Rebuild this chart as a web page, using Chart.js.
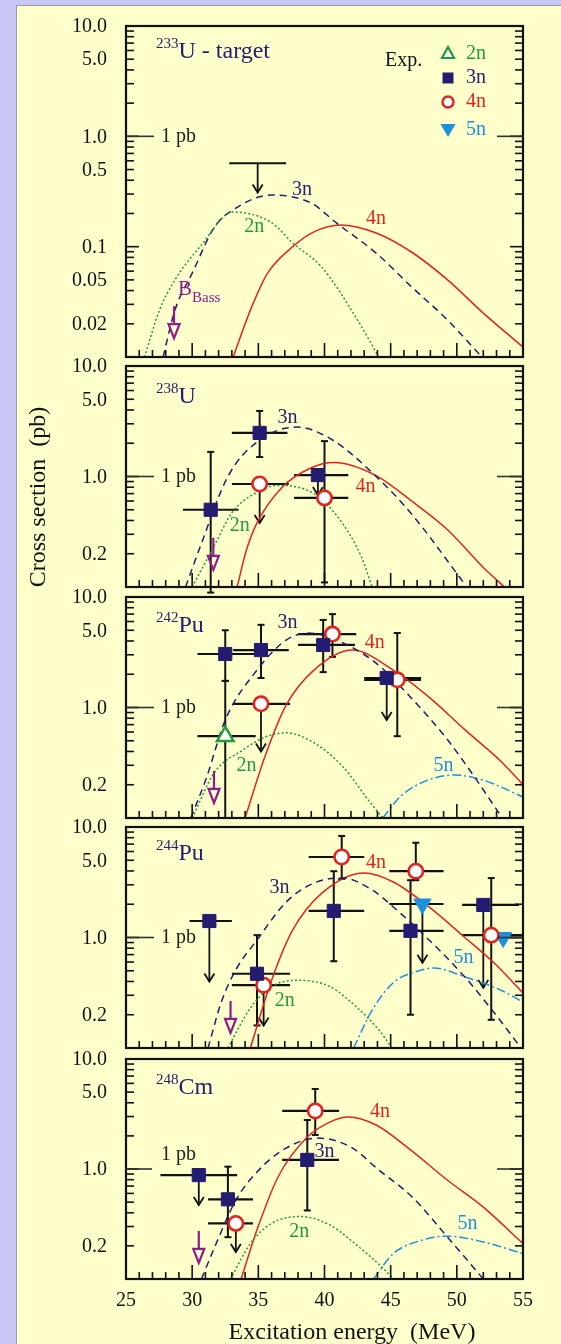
<!DOCTYPE html>
<html><head><meta charset="utf-8">
<script src="https://cdn.jsdelivr.net/npm/chart.js@4/dist/chart.umd.min.js"></script>
<style>
html,body{margin:0;padding:0;background:#c8c8f6;width:561px;height:1344px;overflow:hidden}
#sheet{position:absolute;left:16px;top:5px;width:600px;height:1400px;background:#ffffcc;border:1px solid #9a9aa8;}
canvas{position:absolute;left:0;top:0;}
</style></head><body>
<div id="sheet"></div>
<canvas id="c0" width="561" height="1344"></canvas>
<canvas id="c1" width="561" height="1344"></canvas>
<canvas id="c2" width="561" height="1344"></canvas>
<canvas id="c3" width="561" height="1344"></canvas>
<canvas id="c4" width="561" height="1344"></canvas>
<script>
// ---------------- DATA ----------------
const ENERGY_LABELS = [25, 30, 35, 40, 45, 50, 55];
const Y_LABELS_TOP = [10, 5, 1, 0.5, 0.1, 0.05, 0.02];
const Y_LABELS = [10, 5, 1, 0.2];

// experimental points: [channel, E, sigma, E-low, E-high, sigma-low, sigma-high, upper-limit arrow to]
// 233U target
const U233_2n = [[26.4,0.01],[27.5,0.026],[28.7,0.05],[30.6,0.1],[33.1,0.206],[36.0,0.165],[37.6,0.108],[39.8,0.065],[42.5,0.0216],[44.1,0.01]];
const U233_3n = [[27.8,0.01],[28.7,0.0266],[30.0,0.0575],[31.7,0.151],[33.3,0.224],[36.0,0.294],[39.0,0.248],[40.9,0.164],[43.9,0.0875],[46.6,0.043],[49.3,0.0216],[51.7,0.0106]];
const U233_4n = [[33.1,0.01],[34.4,0.0266],[35.7,0.0575],[37.6,0.1],[39.2,0.136],[41.2,0.157],[43.9,0.133],[46.6,0.089],[49.3,0.05],[52.0,0.025],[55,0.0123]];
const U233_exp = [['lim',34.95,0.57,32.8,37.1,null,null,0.31]];
const U233_bass = [28.63, 0.0148];
const U233_tags = [['3n',38.3,0.326],['2n',34.7,0.151],['4n',43.9,0.178]];

// 238U target
const U238_2n = [[30.0,0.1],[31.7,0.24],[33.0,0.47],[34.9,0.72],[36.5,0.83],[39.2,0.70],[41.2,0.40],[42.8,0.186],[43.6,0.1]];
const U238_3n = [[29.5,0.1],[30.6,0.23],[32.7,1.0],[34.9,2.05],[37.9,2.8],[40.6,2.14],[43.9,1.0],[46.5,0.47],[49.8,0.143],[50.5,0.11]];
const U238_4n = [[33.4,0.1],[34.1,0.216],[34.9,0.38],[36.8,0.8],[39.0,1.2],[40.7,1.34],[43.9,1.02],[46.5,0.61],[49.3,0.33],[52.0,0.15],[53.6,0.1]];
const U238_exp = [
  ['3n',31.4,0.50,29.3,33.5,0.089,1.67,null],
  ['3n',35.1,2.48,33.0,37.2,1.5,3.92,null],
  ['4n',35.1,0.855,33.0,37.3,null,null,0.38],
  ['3n',39.5,1.03,37.7,41.8,null,null,0.68],
  ['4n',40.0,0.64,37.7,41.8,0.11,2.09,null]
];
const U238_bass = [31.6, 0.143];
const U238_tags = [['3n',37.2,3.4],['4n',43.1,0.80],['2n',33.6,0.36]];

// 242Pu target
const Pu242_2n = [[30.0,0.1],[31.7,0.26],[33.8,0.41],[35.5,0.54],[37.1,0.59],[39.2,0.48],[41.4,0.29],[43.3,0.146],[44.4,0.1]];
const Pu242_3n = [[29.9,0.1],[31.1,0.235],[32.5,0.77],[34.9,2.18],[37.1,4.07],[38.8,4.72],[41.4,3.84],[43.9,2.52],[46.5,1.24],[49.3,0.51],[51.5,0.22],[53.2,0.11]];
const Pu242_4n = [[34.0,0.1],[35.5,0.36],[37.1,1.05],[39.2,2.18],[42.1,3.31],[45.2,2.18],[47.9,1.24],[50.6,0.63],[53.4,0.32],[55,0.2]];
const Pu242_5n = [[44.4,0.1],[45.7,0.155],[47.4,0.21],[49.8,0.245],[52.0,0.22],[55,0.155]];
const Pu242_exp = [
  ['3n',32.5,3.05,30.4,34.8,1.74,5.0,null],
  ['2n',32.5,0.55,30.4,34.8,0.1,1.74,null],
  ['3n',35.2,3.31,33.1,37.3,1.85,5.6,null],
  ['4n',35.2,1.08,33.1,37.4,null,null,0.40],
  ['3n',39.9,3.68,38.0,42.3,2.09,6.2,null],
  ['4n',40.6,4.62,38.0,42.4,2.87,7.0,null],
  ['3n',44.7,1.85,43.0,47.3,null,null,0.77],
  ['4n',45.5,1.78,43.0,47.3,0.55,4.72,null]
];
const Pu242_bass = [31.65, 0.137];
const Pu242_tags = [['3n',37.2,5.8],['4n',43.8,3.84],['2n',34.1,0.30],['5n',49.0,0.30]];

// 244Pu target
const Pu244_2n = [[32.7,0.1],[34.4,0.23],[36.0,0.36],[38.0,0.41],[40.4,0.36],[42.5,0.23],[44.1,0.146],[45.1,0.1]];
const Pu244_3n = [[31.2,0.1],[32.2,0.26],[33.3,0.51],[34.9,0.95],[37.1,2.09],[39.2,3.11],[41.4,3.45],[43.6,2.69],[45.2,1.89],[47.9,0.95],[50.6,0.44],[52.8,0.21],[54.6,0.11]];
const Pu244_4n = [[34.4,0.1],[36.0,0.41],[37.6,1.17],[39.8,2.52],[43.0,3.84],[45.2,3.18],[47.9,1.89],[50.6,1.0],[52.8,0.59],[55,0.315]];
const Pu244_5n = [[42.2,0.1],[43.6,0.22],[45.2,0.39],[46.9,0.49],[48.3,0.53],[50.6,0.44],[53.3,0.335],[55,0.26]];
const Pu244_exp = [
  ['3n',31.3,1.41,29.8,33.0,null,null,0.40],
  ['3n',34.9,0.47,33.0,37.4,0.16,1.05,null],
  ['4n',35.4,0.37,33.0,37.4,null,null,0.16],
  ['3n',40.7,1.74,38.8,43.0,0.61,3.98,null],
  ['4n',41.3,5.35,38.8,43.0,3.39,8.3,null],
  ['3n',46.5,1.15,44.9,49.0,0.2,3.3,null],
  ['4n',46.9,3.98,44.9,49.0,3.3,7.2,null],
  ['5n',47.4,2.01,44.9,49.0,null,null,0.59],
  ['3n',52.0,1.97,50.4,54.7,null,null,0.35],
  ['4n',52.6,1.05,50.4,55.0,0.18,3.45,null],
  ['5n',53.5,1.0,52.0,55.0,null,null,null]
];
const Pu244_bass = [32.9, 0.137];
const Pu244_tags = [['3n',36.6,2.8],['4n',43.9,4.7],['2n',37.0,0.27],['5n',50.5,0.65]];

// 248Cm target
const Cm248_2n = [[32.9,0.1],[34.4,0.21],[36.0,0.32],[38.2,0.37],[40.4,0.31],[42.5,0.2],[44.4,0.126],[45.2,0.1]];
const Cm248_3n = [[30.7,0.1],[31.7,0.195],[33.3,0.52],[34.9,0.94],[37.1,1.55],[39.5,1.91],[42.0,1.58],[44.1,0.98],[46.6,0.56],[49.3,0.24],[52.0,0.1]];
const Cm248_4n = [[33.7,0.1],[34.9,0.28],[36.5,0.85],[38.7,1.95],[40.4,2.67],[41.8,2.97],[43.9,2.51],[46.5,1.49],[49.3,0.79],[52.0,0.45],[55,0.21]];
const Cm248_5n = [[43.7,0.1],[45.2,0.17],[47.4,0.226],[49.3,0.245],[52.0,0.217],[55,0.17]];
const Cm248_exp = [
  ['3n',30.5,0.88,27.6,33.4,null,null,0.47],
  ['3n',32.7,0.53,31.2,34.6,0.24,1.05,null],
  ['4n',33.3,0.32,31.2,34.6,null,null,0.176],
  ['3n',38.7,1.21,36.8,41.1,0.42,2.79,null],
  ['4n',39.3,3.37,36.8,41.1,2.04,5.34,null]
];
const Cm248_bass = [30.5, 0.14];
const Cm248_tags = [['4n',44.2,3.3],['3n',40.0,1.43],['2n',38.1,0.27],['5n',50.8,0.32]];

// ---------------- STYLE / LAYOUT ----------------
const SERIF = '"Liberation Serif","DejaVu Serif",serif';
const COLORS = {'2n':'#1f9a3e','3n':'#241c70','4n':'#e2231f','5n':'#1b91de'};
const DASHES = {'2n':[2,2.2],'3n':[7,5],'4n':[],'5n':[9,3,2,3]};
const PURPLE = '#8e1c8c';
const NAVY = '#241c70';
const AX_L = 126, AX_R = 523, W = 561, H = 1344;

const PANELS = [
  {id:'c0', top:26,  bottom:357,  min:0.01, max:10, labels:Y_LABELS_TOP, sup:'233', name:'U - target', titleY:58,
   curves:{'2n':U233_2n,'3n':U233_3n,'4n':U233_4n}, exp:U233_exp, bass:U233_bass, tags:U233_tags, pbAbove:false, legend:true},
  {id:'c1', top:366, bottom:587,  min:0.1, max:10, labels:Y_LABELS, sup:'238', name:'U', titleY:403,
   curves:{'2n':U238_2n,'3n':U238_3n,'4n':U238_4n}, exp:U238_exp, bass:U238_bass, tags:U238_tags, pbAbove:false},
  {id:'c2', top:597, bottom:818,  min:0.1, max:10, labels:Y_LABELS, sup:'242', name:'Pu', titleY:632,
   curves:{'2n':Pu242_2n,'3n':Pu242_3n,'4n':Pu242_4n,'5n':Pu242_5n}, exp:Pu242_exp, bass:Pu242_bass, tags:Pu242_tags, pbAbove:false},
  {id:'c3', top:827, bottom:1048, min:0.1, max:10, labels:Y_LABELS, sup:'244', name:'Pu', titleY:860,
   curves:{'2n':Pu244_2n,'3n':Pu244_3n,'4n':Pu244_4n,'5n':Pu244_5n}, exp:Pu244_exp, bass:Pu244_bass, tags:Pu244_tags, pbAbove:false},
  {id:'c4', top:1059, bottom:1279, min:0.1, max:10, labels:Y_LABELS, sup:'248', name:'Cm', titleY:1094,
   curves:{'2n':Cm248_2n,'3n':Cm248_3n,'4n':Cm248_4n,'5n':Cm248_5n}, exp:Cm248_exp, bass:Cm248_bass, tags:Cm248_tags, pbAbove:true, xLabels:true}
];

const MARK = {
  '2n':{pointStyle:'triangle', pointRadius:9.5, pointRotation:0, pointBackgroundColor:'#ffffff', pointBorderColor:COLORS['2n'], pointBorderWidth:2.5},
  '3n':{pointStyle:'rect', pointRadius:9.3, pointRotation:0, pointBackgroundColor:NAVY, pointBorderColor:NAVY, pointBorderWidth:1},
  '4n':{pointStyle:'circle', pointRadius:7.2, pointRotation:0, pointBackgroundColor:'#ffffff', pointBorderColor:COLORS['4n'], pointBorderWidth:2.6},
  '5n':{pointStyle:'triangle', pointRadius:10, pointRotation:180, pointBackgroundColor:COLORS['5n'], pointBorderColor:COLORS['5n'], pointBorderWidth:1}
};

function line(ctx,x1,y1,x2,y2){ctx.beginPath();ctx.moveTo(x1,y1);ctx.lineTo(x2,y2);ctx.stroke();}
function txt(ctx,s,x,y,size,color,align,base){ctx.font=size+'px '+SERIF;ctx.fillStyle=color;ctx.textAlign=align||'left';ctx.textBaseline=base||'alphabetic';ctx.fillText(s,x,y);}
function fmt(v){return v>=1? v.toFixed(1) : String(v);}

function makePlugin(p, idx){
  return {
    id:'panel'+idx,
    beforeDatasetsDraw(chart){
      const ctx=chart.ctx, xs=chart.scales.x, ys=chart.scales.y;
      ctx.save(); ctx.strokeStyle='#111'; ctx.lineCap='butt';
      p.exp.forEach(([ch,e,s,eLo,eHi,sLo,sHi,lim])=>{
        const X=xs.getPixelForValue(e), Y=ys.getPixelForValue(s);
        ctx.lineWidth=2.2;
        line(ctx,xs.getPixelForValue(eLo),Y,xs.getPixelForValue(eHi),Y);
        if(sLo!==null){
          const y1=ys.getPixelForValue(sLo), y2=ys.getPixelForValue(sHi);
          ctx.lineWidth=2;
          line(ctx,X,y1,X,y2);
          line(ctx,X-3.5,y1,X+3.5,y1); line(ctx,X-3.5,y2,X+3.5,y2);
        }
        if(lim!==null){
          const yl=ys.getPixelForValue(lim);
          ctx.lineWidth=1.8;
          line(ctx,X,Y,X,yl);
          ctx.beginPath(); ctx.moveTo(X-5,yl-8); ctx.lineTo(X,yl); ctx.lineTo(X+5,yl-8); ctx.stroke();
        }
      });
      ctx.restore();
    },
    afterDraw(chart){
      const ctx=chart.ctx, xs=chart.scales.x, ys=chart.scales.y, a=chart.chartArea;
      ctx.save();
      // ticks
      ctx.strokeStyle='#111'; ctx.lineWidth=1.6;
      const d0=Math.round(Math.log10(p.min)), d1=Math.round(Math.log10(p.max));
      for(let d=d0; d<d1; d++){
        for(let k=1;k<=9;k++){
          const v=k*Math.pow(10,d); const y=ys.getPixelForValue(v);
          const len=(k===1)?13:8;
          line(ctx,a.left,y,a.left+len,y); line(ctx,a.right,y,a.right-len,y);
        }
      }
      for(let e=26;e<55;e++){
        const x=xs.getPixelForValue(e); const len=(e%5===0)?14:7;
        line(ctx,x,a.bottom,x,a.bottom-len);
      }
      // frame
      ctx.lineWidth=2.2; ctx.strokeRect(a.left,a.top,a.right-a.left,a.bottom-a.top);
      // y labels
      p.labels.forEach(v=>{ txt(ctx,fmt(v),107,ys.getPixelForValue(v)+1,20,'#111','right','middle'); });
      // 1 pb marks
      const y1=ys.getPixelForValue(1);
      ctx.lineWidth=1.6; ctx.strokeStyle='#333';
      line(ctx,a.left,y1,p.pbAbove?152:154,y1);
      line(ctx,497,y1,a.right,y1);
      if(p.pbAbove) txt(ctx,'1 pb',161,y1-9,20,'#222','left','alphabetic');
      else txt(ctx,'1 pb',161,y1,20,'#222','left','middle');
      // title
      ctx.font='15px '+SERIF; const sw=ctx.measureText(p.sup).width;
      txt(ctx,p.sup,156,p.titleY-10,15,NAVY,'left','alphabetic');
      txt(ctx,p.name,156+sw,p.titleY,24,NAVY,'left','alphabetic');
      // curve tags
      p.tags.forEach(([ch,e,s])=>{ txt(ctx,ch,xs.getPixelForValue(e),ys.getPixelForValue(s),20,COLORS[ch],'center','middle'); });
      // B_Bass arrow
      const bx=xs.getPixelForValue(p.bass[0]), by=ys.getPixelForValue(p.bass[1]);
      ctx.strokeStyle=PURPLE; ctx.lineWidth=2.2;
      line(ctx,bx,by-32,bx,by-14);
      ctx.beginPath(); ctx.moveTo(bx-5.5,by-14); ctx.lineTo(bx+5.5,by-14); ctx.lineTo(bx,by); ctx.closePath(); ctx.stroke();
      if(idx===0){
        txt(ctx,'B',178,295,21,PURPLE,'left','alphabetic');
        txt(ctx,'Bass',192,302,15,PURPLE,'left','alphabetic');
      }
      // legend
      if(p.legend){
        txt(ctx,'Exp.',385,61,20,'#111','left','middle');
        const lx=448;
        ctx.strokeStyle=COLORS['2n']; ctx.fillStyle='#fff'; ctx.lineWidth=2.2;
        ctx.beginPath(); ctx.moveTo(lx,47); ctx.lineTo(lx+6,58); ctx.lineTo(lx-6,58); ctx.closePath(); ctx.fill(); ctx.stroke();
        ctx.fillStyle=NAVY; ctx.fillRect(lx-5.5,72.5,11,11);
        ctx.strokeStyle=COLORS['4n']; ctx.fillStyle='#fff'; ctx.lineWidth=2.4;
        ctx.beginPath(); ctx.arc(lx,102,5.5,0,Math.PI*2); ctx.fill(); ctx.stroke();
        ctx.fillStyle=COLORS['5n'];
        ctx.beginPath(); ctx.moveTo(lx-7.5,124); ctx.lineTo(lx+7.5,124); ctx.lineTo(lx,137); ctx.closePath(); ctx.fill();
        txt(ctx,'2n',466,54,20,COLORS['2n'],'left','middle');
        txt(ctx,'3n',466,78,20,COLORS['3n'],'left','middle');
        txt(ctx,'4n',466,102,20,COLORS['4n'],'left','middle');
        txt(ctx,'5n',466,130,20,COLORS['5n'],'left','middle');
      }
      // x labels + axis titles on the last panel
      if(p.xLabels){
        ENERGY_LABELS.forEach(e=>{ txt(ctx,String(e),xs.getPixelForValue(e),1301,20,'#111','center','middle'); });
        txt(ctx,'Excitation energy  (MeV)',352,1333,24,'#111','center','middle');
        ctx.save(); ctx.translate(39,497); ctx.rotate(-Math.PI/2);
        txt(ctx,'Cross section  (pb)',0,0,24,'#111','center','middle');
        ctx.restore();
      }
      ctx.restore();
    }
  };
}

PANELS.forEach((p,idx)=>{
  const datasets=[];
  ['2n','3n','4n','5n'].forEach(ch=>{
    const pts=p.exp.filter(r=>r[0]===ch);
    if(pts.length){
      datasets.push(Object.assign({label:'exp '+ch, data:pts.map(r=>({x:r[1],y:r[2]})), showLine:false, order:0, clip:false}, MARK[ch]));
    }
  });
  Object.keys(p.curves).forEach(ch=>{
    datasets.push({label:'calc '+ch, data:p.curves[ch].map(([x,y])=>({x,y})), showLine:true, pointRadius:0,
      borderColor:COLORS[ch], borderWidth:1.5, borderDash:DASHES[ch], cubicInterpolationMode:'monotone', fill:false, order:10});
  });
  new Chart(document.getElementById(p.id),{
    type:'scatter',
    data:{datasets},
    options:{
      responsive:false, animation:false, events:[], devicePixelRatio:1,
      layout:{padding:{left:AX_L,right:W-AX_R,top:p.top,bottom:H-p.bottom}},
      plugins:{legend:{display:false},tooltip:{enabled:false}},
      scales:{
        x:{type:'linear',min:25,max:55,display:false},
        y:{type:'logarithmic',min:p.min,max:p.max,display:false}
      }
    },
    plugins:[makePlugin(p,idx)]
  });
});
</script>
</body></html>
